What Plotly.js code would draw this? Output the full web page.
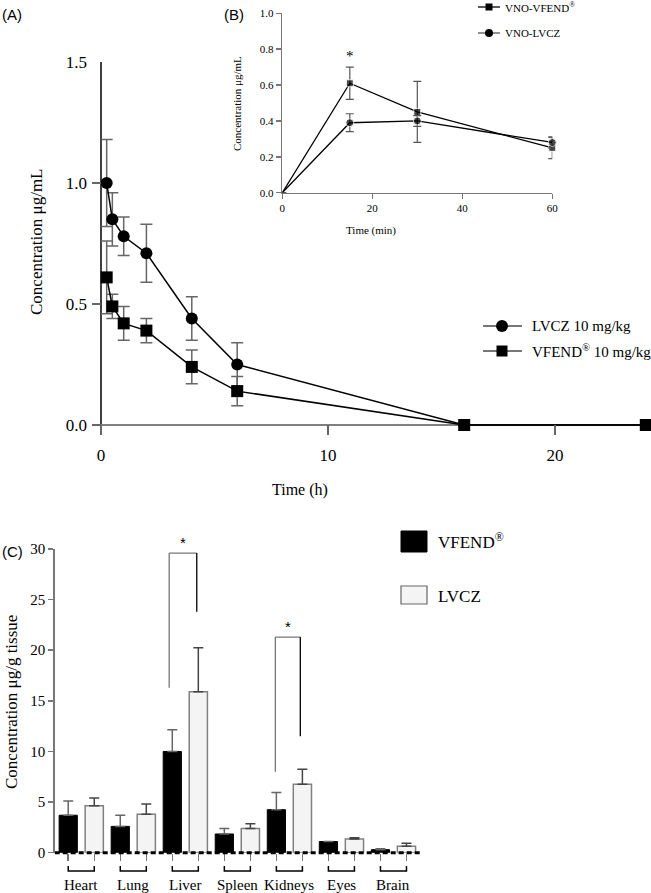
<!DOCTYPE html>
<html>
<head>
<meta charset="utf-8">
<script src="https://cdn.plot.ly/plotly-3.0.1.min.js"></script>
<style>html,body{margin:0;padding:0;background:#fff;}#chart{width:651px;height:893px;}</style>
</head>
<body>
<div id="chart"></div>
<script>
// ---------- Panel A data (plasma, h) ----------
const timeA = [0.25, 0.5, 1, 2, 4, 6, 16, 24];
const lvczA = [1.00, 0.85, 0.78, 0.71, 0.44, 0.25, 0, 0];
const lvczAErr = [0.18, 0.11, 0.08, 0.12, 0.09, 0.09, 0, 0];
const vfendA = [0.61, 0.49, 0.42, 0.39, 0.24, 0.14, 0, 0];
const vfendAErr = [0.15, 0.05, 0.07, 0.05, 0.07, 0.06, 0, 0];
const legendA = ["LVCZ 10 mg/kg", "VFEND<sup>®</sup> 10 mg/kg"];

// ---------- Panel B data (VNO, min) ----------
const timeB = [0, 15, 30, 60];
const vfendB = [0, 0.61, 0.45, 0.25];
const vfendBErr = [0, 0.09, 0.17, 0.06];
const lvczB = [0, 0.39, 0.40, 0.28];
const lvczBErr = [0, 0.05, 0.03, 0.03];
const legendB = ["VNO-VFEND<sup>®</sup>", "VNO-LVCZ"];

// ---------- Panel C data (tissue) ----------
const organs = ["Heart", "Lung", "Liver", "Spleen", "Kidneys", "Eyes", "Brain"];
const vfendC = [3.7, 2.6, 10.0, 1.85, 4.25, 1.1, 0.3];
const vfendCErr = [1.4, 1.1, 2.15, 0.55, 1.7, 0, 0.1];
const lvczC = [4.65, 3.8, 15.9, 2.4, 6.75, 1.35, 0.63];
const lvczCErr = [0.75, 1.0, 4.35, 0.47, 1.5, 0.13, 0.3];
const legendC = ["VFEND<sup>®</sup>", "LVCZ"];
// significance brackets: [xLeft, xRight, yLeftBottom, yTop, yRightBottom]
const sigBrackets = [[1.69, 2.22, 16.3, 29.6, 23.8], [3.73, 4.21, 8.0, 21.3, 11.5]];

// ---------- helpers ----------
const W = 651, H = 893;
const px = x => x / W;
const py = y => 1 - y / H;
const SERIF = "Liberation Serif, Times New Roman, serif";
const SANS = "Liberation Sans, Arial, sans-serif";

const traces = [];
// Panel A
traces.push({
  x: timeA, y: lvczA, xaxis: 'x', yaxis: 'y', type: 'scatter', mode: 'lines+markers',
  line: {color: '#000', width: 1.5}, marker: {symbol: 'circle', size: 12, color: '#000'},
  error_y: {type: 'data', array: lvczAErr, color: '#666', thickness: 1.5, width: 6},
  cliponaxis: false
});
traces.push({
  x: timeA, y: vfendA, xaxis: 'x', yaxis: 'y', type: 'scatter', mode: 'lines+markers',
  line: {color: '#000', width: 1.5}, marker: {symbol: 'square', size: 12, color: '#000'},
  error_y: {type: 'data', array: vfendAErr, color: '#666', thickness: 1.5, width: 6},
  cliponaxis: false
});
// Panel B
traces.push({
  x: timeB, y: vfendB, xaxis: 'x2', yaxis: 'y2', type: 'scatter', mode: 'lines+markers',
  line: {color: '#000', width: 1.3}, marker: {symbol: 'square', size: [0, 7, 7, 7], color: '#000'},
  error_y: {type: 'data', array: vfendBErr, color: '#555', thickness: 1.2, width: 4},
  cliponaxis: false
});
traces.push({
  x: timeB, y: lvczB, xaxis: 'x2', yaxis: 'y2', type: 'scatter', mode: 'lines+markers',
  line: {color: '#000', width: 1.3}, marker: {symbol: 'circle', size: [0, 8, 8, 8], color: '#000'},
  error_y: {type: 'data', array: lvczBErr, color: '#555', thickness: 1.2, width: 4},
  cliponaxis: false
});
// Panel C
const zeros = organs.map(() => 0);
traces.push({
  x: organs.map((o, i) => i - 0.25), y: vfendC, xaxis: 'x3', yaxis: 'y3', type: 'bar', width: 0.35,
  marker: {color: '#000', line: {color: '#000', width: 1}},
  error_y: {type: 'data', symmetric: false, array: vfendCErr, arrayminus: zeros, color: '#666', thickness: 1.5, width: 5}
});
traces.push({
  x: organs.map((o, i) => i + 0.25), y: lvczC, xaxis: 'x3', yaxis: 'y3', type: 'bar', width: 0.35,
  marker: {color: '#f4f4f4', line: {color: '#808080', width: 1.5}},
  error_y: {type: 'data', symmetric: false, array: lvczCErr, arrayminus: zeros, color: '#444', thickness: 1.5, width: 5}
});

const shapes = [];
const annotations = [];
function txt(text, x, y, size, opts) {
  annotations.push(Object.assign({
    text: text, x: px(x), y: py(y), xref: 'paper', yref: 'paper', showarrow: false,
    xanchor: 'left', yanchor: 'middle', font: {family: SERIF, size: size, color: '#000'}
  }, opts || {}));
}

// Panel A axis lines (crossing at zero)
const xA0 = -9 / 22.7, xA1 = (651 - 101) / 22.7, yA0 = -10 / 242;
shapes.push({type: 'line', xref: 'x', yref: 'y', x0: 0, x1: 0, y0: yA0, y1: 1.5, line: {color: '#000', width: 1.5}, layer: 'below'});
shapes.push({type: 'line', xref: 'x', yref: 'y', x0: xA0, x1: xA1, y0: 0, y1: 0, line: {color: '#808080', width: 2}, layer: 'below'});

// Panel A legend
shapes.push({type: 'line', xref: 'paper', yref: 'paper', x0: px(483), x1: px(522), y0: py(326), y1: py(326), line: {color: '#777', width: 2}});
shapes.push({type: 'circle', xref: 'paper', yref: 'paper', x0: px(496), x1: px(508), y0: py(320), y1: py(332), fillcolor: '#000', line: {color: '#000', width: 0}});
shapes.push({type: 'line', xref: 'paper', yref: 'paper', x0: px(483), x1: px(522), y0: py(351), y1: py(351), line: {color: '#777', width: 2}});
shapes.push({type: 'rect', xref: 'paper', yref: 'paper', x0: px(496.5), x1: px(507.5), y0: py(345.5), y1: py(356.5), fillcolor: '#000', line: {color: '#000', width: 0}});
txt(legendA[0], 530, 326, 15);
txt(legendA[1], 530, 351, 15);

// Panel B legend
shapes.push({type: 'line', xref: 'paper', yref: 'paper', x0: px(478), x1: px(500), y0: py(7), y1: py(7), line: {color: '#000', width: 1.3}});
shapes.push({type: 'rect', xref: 'paper', yref: 'paper', x0: px(485.5), x1: px(492.5), y0: py(3.5), y1: py(10.5), fillcolor: '#000', line: {color: '#000', width: 0}});
shapes.push({type: 'line', xref: 'paper', yref: 'paper', x0: px(478), x1: px(500), y0: py(33), y1: py(33), line: {color: '#555', width: 1.3}});
shapes.push({type: 'circle', xref: 'paper', yref: 'paper', x0: px(485), x1: px(493), y0: py(29), y1: py(37), fillcolor: '#000', line: {color: '#000', width: 0}});
txt(legendB[0], 503, 7, 11);
txt(legendB[1], 503, 33, 11);

// Panel C legend
shapes.push({type: 'rect', xref: 'paper', yref: 'paper', x0: px(401), x1: px(427), y0: py(552), y1: py(531), fillcolor: '#000', line: {color: '#000', width: 1}});
shapes.push({type: 'rect', xref: 'paper', yref: 'paper', x0: px(401), x1: px(427), y0: py(604), y1: py(586), fillcolor: '#f4f4f4', line: {color: '#666', width: 1.2}});
txt(legendC[0], 436, 541, 17);
txt(legendC[1], 436, 596, 17);

// Panel C geometry for paper-based marks
const cBottom = py(852.7), cTop = py(549);
const cY = v => cBottom + (v / 30) * (cTop - cBottom);

// Panel C dashed zero axis
shapes.push({type: 'line', xref: 'x3', yref: 'paper', x0: -0.51, x1: 6.51, y0: cBottom, y1: cBottom, line: {color: '#000', width: 3, dash: '5px,3px'}});
// Group brackets and labels
organs.forEach((o, i) => {
  shapes.push({type: 'path', xref: 'x3', yref: 'paper',
    path: 'M' + (i - 0.25) + ',' + py(866) + ' V' + py(871) + ' H' + (i + 0.25) + ' V' + py(866),
    line: {color: '#000', width: 1.5}});
  annotations.push({text: o, x: i, y: py(885), xref: 'x3', yref: 'paper', showarrow: false,
    xanchor: 'center', yanchor: 'middle', font: {family: SERIF, size: 15, color: '#000'}});
});
// Significance brackets
sigBrackets.forEach(b => {
  shapes.push({type: 'line', xref: 'x3', yref: 'y3', x0: b[0], x1: b[0], y0: b[2], y1: b[3], line: {color: '#777', width: 1.3}});
  shapes.push({type: 'line', xref: 'x3', yref: 'y3', x0: b[0], x1: b[1], y0: b[3], y1: b[3], line: {color: '#777', width: 1.3}});
  shapes.push({type: 'line', xref: 'x3', yref: 'y3', x0: b[1], x1: b[1], y0: b[3], y1: b[4], line: {color: '#000', width: 1.3}});
  annotations.push({text: '*', x: (b[0] + b[1]) / 2, y: cY(b[3] + 1.0), xref: 'x3', yref: 'paper', showarrow: false,
    xanchor: 'center', yanchor: 'middle', font: {family: SANS, size: 15, color: '#000'}});
});
// B star
annotations.push({text: '*', x: 15, y: 0.76, xref: 'x2', yref: 'y2', showarrow: false,
  xanchor: 'center', yanchor: 'middle', font: {family: SERIF, size: 15, color: '#000'}});

// Panel labels & titles
txt('(A)', 0, 15, 15, {font: {family: SANS, size: 15, color: '#000'}});
txt('(B)', 222, 15, 15, {font: {family: SANS, size: 15, color: '#000'}});
txt('(C)', 0, 551, 15, {font: {family: SANS, size: 15, color: '#000'}});
txt('Time (h)', 300, 490, 16, {xanchor: 'center'});
txt('Concentration μg/mL', 37, 242, 17, {xanchor: 'center', textangle: -90});
txt('Concentration μg/mL', 237, 103, 11, {xanchor: 'center', textangle: -90});
txt('Time (min)', 371, 231, 11, {xanchor: 'center'});
txt('Concentration μg/g tissue', 11, 702, 17, {xanchor: 'center', textangle: -90});

const tickFontA = {family: SERIF, size: 17, color: '#000'};
const layout = {
  width: W, height: H, margin: {l: 0, r: 0, t: 0, b: 0},
  paper_bgcolor: '#fff', plot_bgcolor: 'rgba(0,0,0,0)', showlegend: false, barmode: 'overlay',
  xaxis: {domain: [px(92), 1], range: [xA0, xA1], anchor: 'y', showgrid: false, zeroline: false, showline: false,
    tickvals: [0, 10, 20], ticks: 'inside', ticklen: 10, tickwidth: 1.5, tickcolor: '#666', tickfont: tickFontA, ticklabelstandoff: 8},
  yaxis: {domain: [py(435), py(62)], range: [yA0, 1.5], anchor: 'x', showgrid: false, zeroline: false, showline: false,
    tickvals: [0, 0.5, 1, 1.5], tickformat: '.1f', ticks: 'inside', ticklen: 9, tickwidth: 1.5, tickcolor: '#666', tickfont: tickFontA, ticklabelstandoff: 4},
  xaxis2: {domain: [px(282.3), px(552.3)], range: [0, 60], anchor: 'y2', showgrid: false, zeroline: false,
    showline: true, linecolor: '#777', linewidth: 1.5, tickvals: [0, 20, 40, 60], ticks: 'outside', ticklen: 5, tickcolor: '#777', tickwidth: 1.5,
    tickfont: {family: SERIF, size: 11, color: '#000'}},
  yaxis2: {domain: [py(192.7), py(13.3)], range: [0, 1], anchor: 'x2', showgrid: false, zeroline: false,
    showline: true, linecolor: '#777', linewidth: 1.5, tickvals: [0, 0.2, 0.4, 0.6, 0.8, 1.0], tickformat: '.1f', ticks: 'outside', ticklen: 5, tickcolor: '#777', tickwidth: 1.5,
    tickfont: {family: SERIF, size: 11, color: '#000'}},
  xaxis3: {domain: [px(54.7), px(420)], range: [-0.51, 6.51], anchor: 'y3', showgrid: false, zeroline: false, showline: false,
    tickvals: organs.flatMap((o, i) => [i - 0.25, i + 0.25]), showticklabels: false, ticks: 'outside', ticklen: 7, tickwidth: 1.5, tickcolor: '#777'},
  yaxis3: {domain: [cBottom, cTop], range: [0, 30], anchor: 'x3', showgrid: false, zeroline: false,
    showline: true, linecolor: '#777', linewidth: 1.5, tickvals: [0, 5, 10, 15, 20, 25, 30], ticks: 'outside', ticklen: 5, tickcolor: '#777', tickwidth: 1.5,
    tickfont: {family: SERIF, size: 15, color: '#000'}},
  shapes: shapes, annotations: annotations
};
Plotly.newPlot('chart', traces, layout, {staticPlot: true, displayModeBar: false});
</script>
</body>
</html>
